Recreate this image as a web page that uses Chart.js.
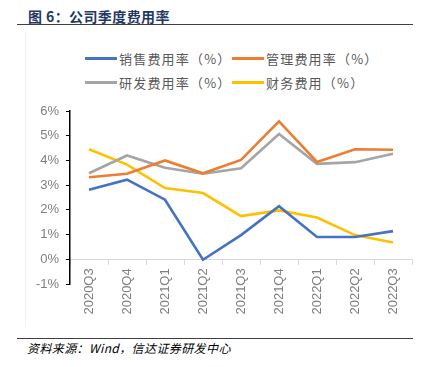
<!DOCTYPE html>
<html>
<head>
<meta charset="utf-8">
<script src="https://cdn.jsdelivr.net/npm/chart.js@4"></script>
<style>
  body { margin: 0; width: 427px; height: 367px; background: #fff; position: relative; overflow: hidden;
         font-family: "Noto Sans CJK SC", sans-serif; }
  #title { position: absolute; left: 28px; top: 6px; font-size: 14px; font-weight: bold; color: #1f3864; line-height: 20px; letter-spacing: 0.4px; }
  .rule { position: absolute; left: 17px; width: 396px; height: 1.5px; background: #404040; }
  #frame { position: absolute; left: 25px; top: 32px; width: 1px; height: 294px; background: #f0f0f0; }
  #legend { position: absolute; left: 85px; top: 49px; width: 300px; }
  .item { position: absolute; display: flex; align-items: center; font-size: 13px; color: #595959; letter-spacing: 1.2px; white-space: nowrap; }
  .item span.swatch { display: inline-block; width: 32px; height: 3px; margin-right: 2px; }
  #wrap { position: absolute; left: 0; top: 95px; width: 427px; height: 240px; }
  #source { position: absolute; left: 27px; top: 339px; font-size: 12px; font-style: italic; color: #000; line-height: 18px; letter-spacing: 0.4px; }
</style>
</head>
<body>
<div id="title">图 6：公司季度费用率</div>
<div class="rule" style="top:23.5px"></div>
<div id="frame"></div>
<div id="legend"></div>
<div id="wrap"><canvas id="chart" width="427" height="240"></canvas></div>
<div class="rule" style="top:337.5px"></div>
<div id="source">资料来源：Wind，信达证券研发中心</div>

<script>
// categories & series (%)
const quarters = ["2020Q3", "2020Q4", "2021Q1", "2021Q2", "2021Q3", "2021Q4", "2022Q1", "2022Q2", "2022Q3"];
const salesRate = [2.81, 3.22, 2.41, -0.02, 0.98, 2.15, 0.90, 0.90, 1.14];
const adminRate = [3.32, 3.46, 4.00, 3.48, 4.02, 5.58, 3.94, 4.45, 4.43];
const rdRate = [3.48, 4.20, 3.70, 3.46, 3.68, 5.07, 3.86, 3.93, 4.27];
const financeRate = [4.45, 3.83, 2.88, 2.68, 1.75, 1.98, 1.69, 0.98, 0.68];
const seriesNames = ["销售费用率（%）", "管理费用率（%）", "研发费用率（%）", "财务费用（%）"];
const seriesColors = ["#4472c4", "#ed7d31", "#a5a5a5", "#ffc000"];
const yTicks = [-1, 0, 1, 2, 3, 4, 5, 6];

const allSeries = [salesRate, adminRate, rdRate, financeRate];

// legend (2 x 2 grid like the original)
const legend = document.getElementById("legend");
const legendPos = [[0, 0], [147, 0], [0, 24], [147, 24]];
seriesNames.forEach(function(name, i) {
  const item = document.createElement("div");
  item.className = "item";
  item.style.left = legendPos[i][0] + "px";
  item.style.top = legendPos[i][1] + "px";
  item.innerHTML = '<span class="swatch" style="background:' + seriesColors[i] + '"></span>' + name;
  legend.appendChild(item);
});

new Chart("chart", {
  type: "line",
  data: {
    labels: quarters,
    datasets: allSeries.map(function(values, i) {
      return {
        label: seriesNames[i],
        data: values,
        borderColor: seriesColors[i],
        backgroundColor: seriesColors[i],
        borderWidth: 2.6,
        pointRadius: 0,
        tension: 0,
        fill: false
      };
    })
  },
  options: {
    responsive: false,
    animation: false,
    layout: { padding: { top: 16, right: 15, bottom: 51, left: 0 } },
    plugins: { legend: { display: false }, tooltip: { enabled: false } },
    scales: {
      x: {
        position: { y: 0 },
        offset: true,
        afterFit: function(scale) { scale.height = 0; },
        grid: { display: true, drawOnChartArea: false, drawTicks: true, tickLength: 5, color: "#d9d9d9", offset: true },
        border: { display: true, color: "#d9d9d9", width: 1 },
        ticks: {
          autoSkip: false, minRotation: 90, maxRotation: 90, padding: 4,
          color: "#7f7f7f", font: { family: "Liberation Sans", size: 13 }
        }
      },
      y: {
        min: -1,
        max: 6,
        afterFit: function(scale) { scale.width = 70; },
        afterBuildTicks: function(scale) { scale.ticks = yTicks.map(function(v) { return { value: v }; }); },
        grid: { display: true, drawOnChartArea: false, drawTicks: true, tickLength: 4, color: "#000" },
        border: { display: true, color: "#000", width: 1.5 },
        ticks: {
          padding: 7,
          color: "#7f7f7f",
          font: { family: "Liberation Sans", size: 13 },
          callback: function(v) { return v + "%"; }
        }
      }
    }
  }
});
</script>
</body>
</html>
